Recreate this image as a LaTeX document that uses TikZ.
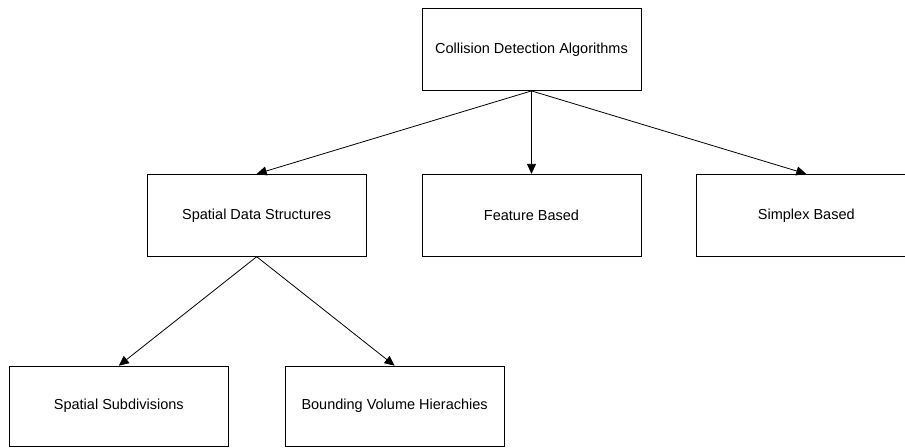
\documentclass[tikz,border=0pt]{standalone}
\usepackage{fontspec}
\setmainfont{Liberation Sans}
\usepackage{tikz}
\usetikzlibrary{arrows.meta,positioning}

\begin{document}
\begin{tikzpicture}[font=\fontsize{14.5bp}{17bp}\selectfont,>={Triangle[length=10bp,width=9bp]},
  line width=0.8bp,
  box/.style={draw,rectangle,inner sep=0pt,minimum width=219bp,minimum height=82bp,align=center}]
  \useasboundingbox (0,0) rectangle (905bp,-448bp);
  % root of the tree
  \node[box] (algos) at (531.5bp,-49.5bp) {Collision Detection Algorithms};
  % second level: three families
  \node[box,below=83bp of algos] (feature) {Feature Based};
  \node[box,left=55bp of feature] (spatial) {Spatial Data Structures};
  \node[box,right=55bp of feature] (simplex) {Simplex Based};
  % third level under the spatial data structures
  \node[box,minimum height=80bp,below left=109bp and 28bp of spatial.south] (subdiv) {Spatial Subdivisions};
  \node[box,minimum height=80bp,below right=109bp and 28bp of spatial.south] (bvh) {Bounding Volume Hierachies};
  \draw[->] (algos.south) -- (spatial.north);
  \draw[->] (algos.south) -- (feature.north);
  \draw[->] (algos.south) -- (simplex.north);
  \draw[->] (spatial.south) -- (subdiv.north);
  \draw[->] (spatial.south) -- (bvh.north);
\end{tikzpicture}
\end{document}
